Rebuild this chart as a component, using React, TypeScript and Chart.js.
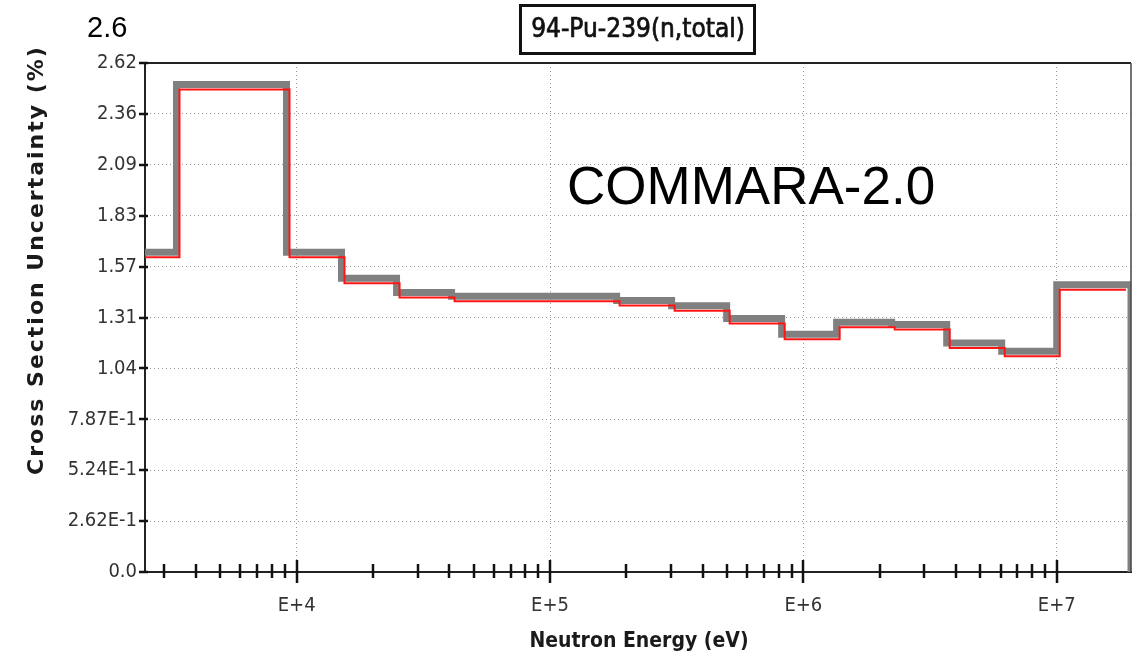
import React, { useEffect, useRef } from "react";
import { Chart, registerables } from "chart.js";

Chart.register(...registerables);

// ---- data (33-group structure edges, eV) ----
const groupEdges = [
  2.035e3, 3.355e3, 5.531e3, 9.119e3, 1.503e4, 2.479e4, 4.087e4, 6.738e4, 1.111e5,
  1.832e5, 3.02e5, 4.979e5, 8.209e5, 1.353e6, 2.231e6, 3.679e6, 6.065e6, 1.0e7, 1.964e7,
];
// relative uncertainty (%) per group, lowest-energy group first
const uncertainty = [
  1.648, 2.513, 2.513, 1.648, 1.514, 1.441, 1.421, 1.421, 1.421, 1.4, 1.373, 1.307,
  1.225, 1.287, 1.276, 1.181, 1.138, 1.481,
];

const xMin = 2.52e3;
const xMax = 1.964e7;
const xMajorTicks = [1e4, 1e5, 1e6, 1e7];
const xMajorLabels = ["E+4", "E+5", "E+6", "E+7"];
const xDecades = [1e3, 1e4, 1e5, 1e6, 1e7];
const xMinorMultipliers = [2, 3, 4, 5, 6, 7, 8, 9];

const yMax = 2.6236;
const yTickLabels = [
  "0.0", "2.62E-1", "5.24E-1", "7.87E-1", "1.04", "1.31", "1.57", "1.83", "2.09", "2.36", "2.62",
];

const chartTitle = "94-Pu-239(n,total)";
const xTitle = "Neutron Energy (eV)";
const yTitle = "Cross Section Uncertainty (%)";
const cornerNote = "2.6";
const libraryLabel = "COMMARA-2.0";

const COND = "'DejaVu Sans Condensed', 'DejaVu Sans', sans-serif";
const SANS = "'DejaVu Sans', sans-serif";
const ARIAL = "'Liberation Sans', Arial, sans-serif";

const yTickValues = yTickLabels.map((_, i) => (i * yMax) / (yTickLabels.length - 1));

const grayPoints = [
  ...uncertainty.map((v, i) => ({ x: groupEdges[i], y: v })),
  { x: groupEdges[groupEdges.length - 1], y: uncertainty[uncertainty.length - 1] },
  { x: groupEdges[groupEdges.length - 1], y: 0 },
];
const redPoints = [
  ...uncertainty.map((v, i) => ({ x: groupEdges[i], y: v })),
  { x: groupEdges[groupEdges.length - 1], y: uncertainty[uncertainty.length - 1] },
];

const decorPlugin = {
  id: "decor",
  beforeDatasetDraw(chart: any, args: any) {
    if (args.index === 0) {
      chart.ctx.save();
      chart.ctx.translate(3, 5);
    }
  },
  afterDatasetDraw(chart: any, args: any) {
    if (args.index === 0) chart.ctx.restore();
  },
  afterDraw(chart: any) {
    const { ctx, chartArea: a, scales } = chart;
    const xs = scales.x;
    const ys = scales.y;
    ctx.save();

    // plot frame (top / right)
    ctx.strokeStyle = "#222";
    ctx.lineWidth = 2;
    ctx.beginPath();
    ctx.moveTo(a.left, a.top);
    ctx.lineTo(a.right, a.top);
    ctx.stroke();
    ctx.lineWidth = 1.5;
    ctx.strokeStyle = "#444";
    ctx.beginPath();
    ctx.moveTo(a.right, a.top);
    ctx.lineTo(a.right, a.bottom);
    ctx.stroke();

    // x tick marks crossing the axis
    ctx.strokeStyle = "#111";
    ctx.lineWidth = 2.5;
    for (const d of xDecades) {
      for (const m of [1, ...xMinorMultipliers]) {
        const v = m * d;
        if (v < xMin || v > xMax) continue;
        const px = Math.round(xs.getPixelForValue(v));
        const major = m === 1;
        ctx.beginPath();
        ctx.moveTo(px, a.bottom - (major ? 12 : 8));
        ctx.lineTo(px, a.bottom + (major ? 11 : 6));
        ctx.stroke();
      }
    }
    // y tick marks
    for (const v of yTickValues) {
      const py = Math.round(ys.getPixelForValue(v));
      ctx.beginPath();
      ctx.moveTo(a.left - 6, py);
      ctx.lineTo(a.left + 3, py);
      ctx.stroke();
    }

    // boxed title
    ctx.lineWidth = 3;
    ctx.strokeStyle = "#111";
    ctx.strokeRect(520.5, 5.5, 234, 48);
    ctx.fillStyle = "#111";
    ctx.font = `26px ${COND}`;
    ctx.textAlign = "center";
    ctx.textBaseline = "alphabetic";
    ctx.fillText(chartTitle, 638, 37);
    ctx.lineWidth = 0.7;
    ctx.strokeText(chartTitle, 638, 37);

    // corner note
    ctx.fillStyle = "#000";
    ctx.font = `29px ${ARIAL}`;
    ctx.textAlign = "left";
    ctx.fillText(cornerNote, 87, 37);

    // library label
    ctx.font = `53px ${ARIAL}`;
    ctx.fillText(libraryLabel, 567, 204);

    // x title
    ctx.fillStyle = "#1a1a1a";
    ctx.font = `bold 21px ${COND}`;
    ctx.textAlign = "center";
    ctx.fillText(xTitle, 639, 647);

    // y title
    ctx.save();
    ctx.translate(43, 260);
    ctx.rotate(-Math.PI / 2);
    ctx.font = `bold 22px ${SANS}`;
    (ctx as any).letterSpacing = "2px";
    ctx.textAlign = "center";
    ctx.fillText(yTitle, 0, 0);
    ctx.restore();

    ctx.restore();
  },
};

export default function App() {
  const ref = useRef<HTMLCanvasElement | null>(null);

  useEffect(() => {
    document.body.style.margin = "0";
    const canvas = ref.current;
    if (!canvas) return;
    const chart = new Chart(canvas, {
      type: "line",
      data: {
        datasets: [
          {
            label: "COMMARA-2.0",
            data: redPoints,
            borderColor: "#ff1414",
            borderWidth: 2,
            stepped: "before",
            pointRadius: 0,
            fill: false,
            borderJoinStyle: "miter",
            borderCapStyle: "butt",
            clip: { left: 3, top: 0, right: -8, bottom: 0 },
          },
          {
            label: "shadow",
            data: grayPoints,
            borderColor: "#808080",
            borderWidth: 7,
            stepped: "before",
            pointRadius: 0,
            fill: false,
            borderJoinStyle: "miter",
            borderCapStyle: "butt",
            clip: 0,
          },
        ],
      },
      options: {
        responsive: false,
        animation: false,
        layout: { padding: { left: 0, right: 7, top: 63, bottom: 0 } },
        plugins: {
          legend: { display: false },
          tooltip: { enabled: false },
          title: { display: false },
        },
        scales: {
          x: {
            type: "logarithmic",
            position: "bottom",
            min: xMin,
            max: xMax,
            afterBuildTicks: (s: any) => {
              s.ticks = xMajorTicks.map((v) => ({ value: v, major: true }));
            },
            afterFit: (s: any) => {
              s.height = 87;
            },
            ticks: {
              autoSkip: false,
              maxRotation: 0,
              minRotation: 0,
              padding: 22,
              color: "#333",
              font: { family: COND, size: 20 },
              callback: (v: any, i: number) => xMajorLabels[i],
            },
            grid: { color: "#9a9a9a", lineWidth: 1, drawTicks: false },
            border: { display: true, color: "#222", width: 2, dash: [1, 3] },
          },
          y: {
            type: "linear",
            min: 0,
            max: yMax,
            afterBuildTicks: (s: any) => {
              s.ticks = yTickValues.map((v) => ({ value: v }));
            },
            afterFit: (s: any) => {
              s.width = 145;
            },
            ticks: {
              autoSkip: false,
              padding: 8,
              color: "#333",
              font: { family: COND, size: 20 },
              callback: (v: any, i: number) => yTickLabels[i],
            },
            grid: { color: "#9a9a9a", lineWidth: 1, drawTicks: false },
            border: { display: true, color: "#222", width: 2, dash: [1, 3] },
          },
        },
      },
      plugins: [decorPlugin],
    } as any);
    return () => chart.destroy();
  }, []);

  return (
    <div style={{ position: "fixed", left: 0, top: 0, width: 1138, height: 659, background: "#fff" }}>
      <canvas ref={ref} width={1138} height={659} style={{ width: 1138, height: 659, display: "block" }} />
    </div>
  );
}
